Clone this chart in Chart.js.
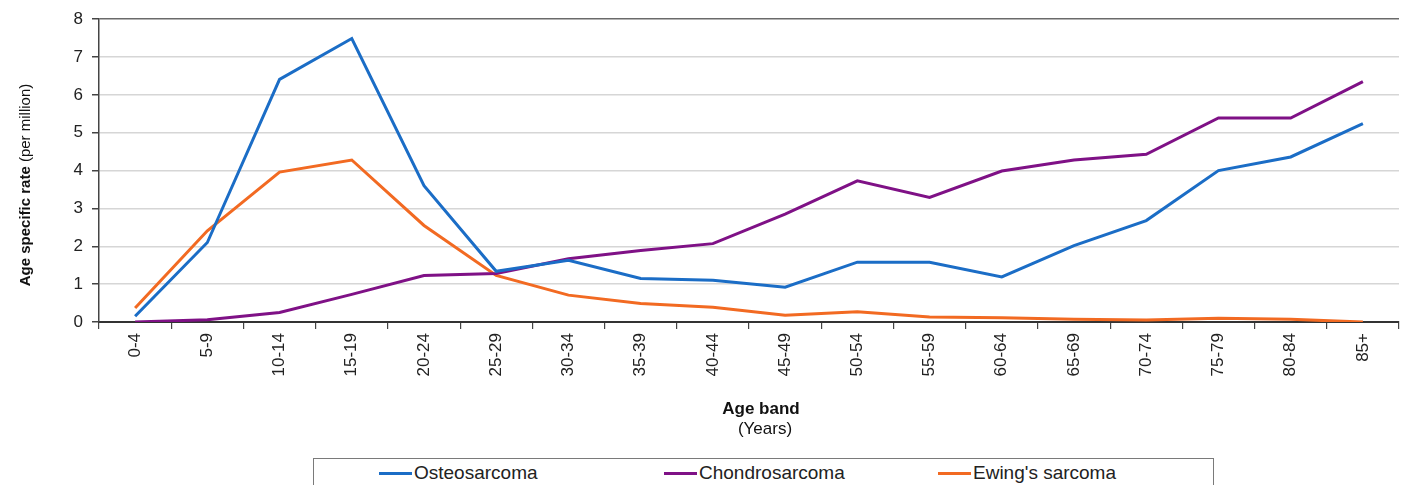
<!DOCTYPE html>
<html>
<head>
<meta charset="utf-8">
<script src="https://cdn.jsdelivr.net/npm/chart.js@4"></script>
<style>
  body { margin: 0; background: #fff; font-family: "Liberation Sans", Arial, sans-serif; }
  #wrap { position: relative; width: 1407px; height: 485px; overflow: hidden; }
  #chartBox { position: absolute; left: 0; top: 0; width: 1407px; height: 455px; }
  #legend { position: absolute; left: 313px; top: 458px; width: 901px; height: 40px; border: 1.5px solid #7a7a7a; box-sizing: border-box; }
  .item { position: absolute; top: 3px; height: 22px; display: flex; align-items: center; font-size: 19px; color: #222; }
  .swatch { width: 33px; height: 3px; margin-right: 2px; }
</style>
</head>
<body>
<div id="wrap">
  <div id="chartBox"><canvas id="myChart"></canvas></div>
  <div id="legend"></div>
</div>
<script>
const ageBands = ['0-4', '5-9', '10-14', '15-19', '20-24', '25-29', '30-34', '35-39', '40-44',
    '45-49', '50-54', '55-59', '60-64', '65-69', '70-74', '75-79', '80-84', '85+'];

const osteosarcoma = [0.15, 2.1, 6.41, 7.49, 3.6, 1.34, 1.63, 1.15, 1.1, 0.92, 1.58, 1.58, 1.19, 2.02, 2.68, 4.0, 4.36, 5.24];
const chondrosarcoma = [0.0, 0.06, 0.25, 0.73, 1.23, 1.28, 1.67, 1.89, 2.07, 2.85, 3.73, 3.29, 3.99, 4.28, 4.43, 5.39, 5.39, 6.35];
const ewingSarcoma = [0.37, 2.41, 3.96, 4.28, 2.55, 1.23, 0.71, 0.49, 0.39, 0.18, 0.27, 0.13, 0.11, 0.07, 0.05, 0.1, 0.07, 0.0];

const yTicks = [0, 1, 2, 3, 4, 5, 6, 7, 8];

const osteoColor = '#1b6dc6';
const chondroColor = '#7f1186';
const ewingColor = '#f26a22';
const fontFamily = '"Liberation Sans", Arial, sans-serif';

// axis titles drawn by hand, the reference mixes bold and normal text
const axisTitles = {
    id: 'axisTitles',
    afterDraw(chart) {
        const ctx = chart.ctx;
        ctx.save();
        ctx.fillStyle = '#111';
        ctx.textBaseline = 'middle';
        // y title
        ctx.translate(26, 185);
        ctx.rotate(-Math.PI / 2);
        const boldPart = 'Age specific rate ';
        const normPart = '(per million)';
        ctx.font = 'bold 15px ' + fontFamily;
        const wb = ctx.measureText(boldPart).width;
        ctx.font = '15px ' + fontFamily;
        const wn = ctx.measureText(normPart).width;
        let x = -(wb + wn) / 2;
        ctx.textAlign = 'left';
        ctx.font = 'bold 15px ' + fontFamily;
        ctx.fillText(boldPart, x, 0);
        ctx.font = '15px ' + fontFamily;
        ctx.fillText(normPart, x + wb, 0);
        ctx.restore();

        // x title
        ctx.save();
        ctx.fillStyle = '#111';
        ctx.textAlign = 'center';
        ctx.textBaseline = 'middle';
        ctx.font = 'bold 17px ' + fontFamily;
        ctx.fillText('Age band', 761, 409);
        ctx.font = '17px ' + fontFamily;
        ctx.fillText('(Years)', 765, 429);
        ctx.restore();
    }
};

const graphData = {
    labels: ageBands,
    datasets: [
        { label: 'Osteosarcoma', data: osteosarcoma, borderColor: osteoColor, backgroundColor: osteoColor },
        { label: 'Chondrosarcoma', data: chondrosarcoma, borderColor: chondroColor, backgroundColor: chondroColor },
        { label: "Ewing's sarcoma", data: ewingSarcoma, borderColor: ewingColor, backgroundColor: ewingColor }
    ]
};

const config = {
    type: 'line',
    data: graphData,
    options: {
        responsive: true,
        maintainAspectRatio: false,
        animation: false,
        layout: { padding: { top: 17, right: 8, left: 0, bottom: 0 } },
        elements: {
            line: { borderWidth: 3, tension: 0 },
            point: { radius: 0 }
        },
        plugins: {
            legend: { display: false },
            tooltip: { enabled: false }
        },
        scales: {
            x: {
                offset: true,
                grid: { offset: true, drawOnChartArea: false, tickLength: 7, color: '#444', lineWidth: 1.2 },
                border: { color: '#333', width: 2 },
                ticks: {
                    maxRotation: 90,
                    minRotation: 90,
                    autoSkip: false,
                    padding: 4,
                    color: '#222',
                    font: { size: 17, family: fontFamily }
                },
                afterFit: scale => { scale.height = 133; }
            },
            y: {
                min: yTicks[0],
                max: yTicks[yTicks.length - 1],
                afterBuildTicks: scale => { scale.ticks = yTicks.map(v => ({ value: v })); },
                grid: {
                    tickLength: 7,
                    lineWidth: 1.5,
                    color: ctx => ctx.tick && ctx.tick.value === 8 ? '#6a6a6a' : '#d6d6d6',
                    tickColor: '#444'
                },
                border: { color: '#444', width: 1.5 },
                ticks: {
                    padding: 9,
                    color: '#222',
                    font: { size: 17, family: fontFamily }
                },
                afterFit: scale => { scale.width = 99; }
            }
        }
    },
    plugins: [axisTitles]
};

const myChart = new Chart(document.getElementById('myChart'), config);

// legend box under the chart, built from the datasets
const legendEl = document.getElementById('legend');
const itemLefts = [65, 350, 624];
myChart.data.datasets.forEach((ds, i) => {
    const item = document.createElement('div');
    item.className = 'item';
    item.style.left = itemLefts[i] + 'px';
    const sw = document.createElement('span');
    sw.className = 'swatch';
    sw.style.background = ds.borderColor;
    const txt = document.createElement('span');
    txt.innerText = ds.label;
    item.appendChild(sw);
    item.appendChild(txt);
    legendEl.appendChild(item);
});
</script>
</body>
</html>
